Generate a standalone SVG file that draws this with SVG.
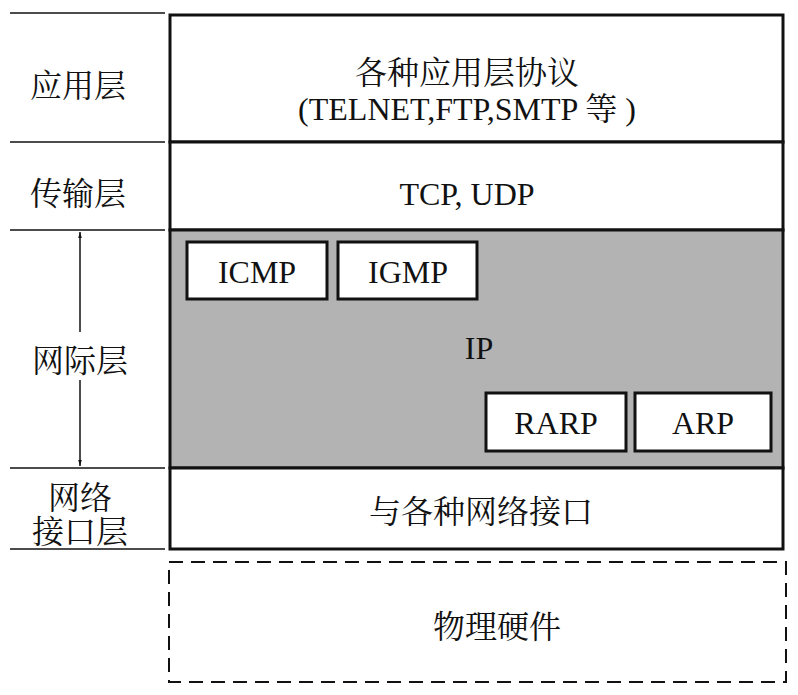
<svg xmlns="http://www.w3.org/2000/svg" width="798" height="695" viewBox="0 0 798 695">
<style>
.c{font-family:"Liberation Serif","Noto Serif CJK SC","Noto Sans CJK SC",serif;font-size:32px;fill:#111;text-anchor:middle}
.thin{stroke:#111;stroke-width:1.5;fill:none}
.box{stroke:#111;stroke-width:3;fill:#fff}
</style>
<defs>
<marker id="ah" viewBox="0 0 10 10" refX="10" refY="5" markerWidth="6" markerHeight="14" markerUnits="userSpaceOnUse" orient="auto-start-reverse">
<path d="M0,2 L10,5 L0,8 z" fill="#111"/>
</marker>
</defs>
<rect width="798" height="695" fill="#fff"/>
<g id="left-lines">
<line class="thin" x1="10" y1="13" x2="165" y2="13"/>
<line class="thin" x1="10" y1="142" x2="165" y2="142"/>
<line class="thin" x1="10" y1="230" x2="165" y2="230"/>
<line class="thin" x1="10" y1="468" x2="165" y2="468"/>
<line class="thin" x1="10" y1="549" x2="165" y2="549"/>
</g>
<g id="labels">
<text class="c" x="78" y="97">应用层</text>
<text class="c" x="78" y="205">传输层</text>
<text class="c" x="80" y="372">网际层</text>
<text class="c" x="80" y="509">网络</text>
<text class="c" x="80" y="543">接口层</text>
</g>
<g id="connectors">
<line class="thin" x1="80" y1="332" x2="80" y2="232" marker-end="url(#ah)"/>
<line class="thin" x1="80" y1="380" x2="80" y2="466" marker-end="url(#ah)"/>
</g>
<g id="app">
<rect class="box" x="170" y="15" width="613" height="127"/>
<text class="c" x="467" y="84">各种应用层协议</text>
<text class="c" x="467" y="120">(TELNET,FTP,SMTP 等 )</text>
</g>
<g id="transport">
<rect class="box" x="170" y="142" width="613" height="88"/>
<text class="c" x="467" y="205">TCP, UDP</text>
</g>
<g id="internet">
<rect x="170" y="230" width="613" height="238" fill="#b3b3b3" stroke="#111" stroke-width="3"/>
<text class="c" x="479" y="359">IP</text>
</g>
<g id="icmp">
<rect class="box" x="187" y="242" width="140" height="57"/>
<text class="c" x="257" y="283">ICMP</text>
</g>
<g id="igmp">
<rect class="box" x="338" y="242" width="139" height="57"/>
<text class="c" x="408" y="283">IGMP</text>
</g>
<g id="rarp">
<rect class="box" x="486" y="393" width="140" height="58"/>
<text class="c" x="556" y="434">RARP</text>
</g>
<g id="arp">
<rect class="box" x="635" y="393" width="136" height="58"/>
<text class="c" x="703" y="434">ARP</text>
</g>
<g id="netif">
<rect class="box" x="170" y="468" width="613" height="81"/>
<text class="c" x="481" y="523">与各种网络接口</text>
</g>
<g id="hw">
<rect x="169" y="562" width="617" height="120" fill="none" stroke="#111" stroke-width="2" stroke-dasharray="14,8"/>
<text class="c" x="497" y="638">物理硬件</text>
</g>
</svg>
